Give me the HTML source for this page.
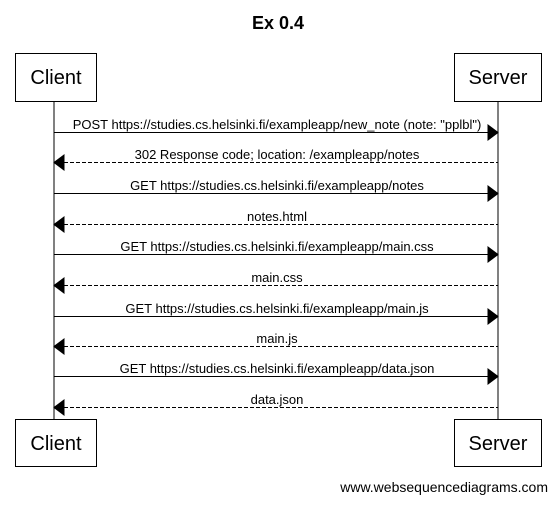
<!DOCTYPE html>
<html><head><style>body{margin:0;background:#fff}</style></head><body>
<svg width="557" height="502" xmlns="http://www.w3.org/2000/svg" font-family="Liberation Sans, sans-serif">
<text x="278" y="29" font-size="18" font-weight="bold" text-anchor="middle">Ex 0.4</text>
<line x1="54" y1="102" x2="54" y2="419" stroke="#000"/>
<line x1="498" y1="102" x2="498" y2="419" stroke="#000"/>
<g fill="#fff" stroke="#000">
<rect x="15.5" y="53.5" width="81" height="48"/>
<rect x="454.5" y="53.5" width="87" height="48"/>
<rect x="15.5" y="419.5" width="81" height="47"/>
<rect x="454.5" y="419.5" width="87" height="47"/>
</g>
<g font-size="20" text-anchor="middle">
<text x="56" y="84">Client</text><text x="498" y="84">Server</text>
<text x="56" y="450">Client</text><text x="498" y="450">Server</text>
</g>
<g stroke="#000">
<line x1="54" y1="132.5" x2="488" y2="132.5"/><polygon points="488,125 498,132.5 488,140" fill="#000"/>
<line x1="64" y1="162.5" x2="498" y2="162.5" stroke-dasharray="4,2"/><polygon points="64,155 54,162.5 64,170" fill="#000"/>
<line x1="54" y1="193.5" x2="488" y2="193.5"/><polygon points="488,186 498,193.5 488,201" fill="#000"/>
<line x1="64" y1="224.5" x2="498" y2="224.5" stroke-dasharray="4,2"/><polygon points="64,217 54,224.5 64,232" fill="#000"/>
<line x1="54" y1="254.5" x2="488" y2="254.5"/><polygon points="488,247 498,254.5 488,262" fill="#000"/>
<line x1="64" y1="285.5" x2="498" y2="285.5" stroke-dasharray="4,2"/><polygon points="64,278 54,285.5 64,293" fill="#000"/>
<line x1="54" y1="316.5" x2="488" y2="316.5"/><polygon points="488,309 498,316.5 488,324" fill="#000"/>
<line x1="64" y1="346.5" x2="498" y2="346.5" stroke-dasharray="4,2"/><polygon points="64,339 54,346.5 64,354" fill="#000"/>
<line x1="54" y1="376.5" x2="488" y2="376.5"/><polygon points="488,369 498,376.5 488,384" fill="#000"/>
<line x1="64" y1="407.5" x2="498" y2="407.5" stroke-dasharray="4,2"/><polygon points="64,400 54,407.5 64,415" fill="#000"/>
</g>
<g font-size="13" text-anchor="middle">
<text x="277" y="129">POST https://studies.cs.helsinki.fi/exampleapp/new_note (note: "pplbl")</text>
<text x="277" y="159">302 Response code; location: /exampleapp/notes</text>
<text x="277" y="190">GET https://studies.cs.helsinki.fi/exampleapp/notes</text>
<text x="277" y="221">notes.html</text>
<text x="277" y="251">GET https://studies.cs.helsinki.fi/exampleapp/main.css</text>
<text x="277" y="282">main.css</text>
<text x="277" y="313">GET https://studies.cs.helsinki.fi/exampleapp/main.js</text>
<text x="277" y="343">main.js</text>
<text x="277" y="373">GET https://studies.cs.helsinki.fi/exampleapp/data.json</text>
<text x="277" y="404">data.json</text>
</g>
<text x="548" y="492" font-size="14" text-anchor="end">www.websequencediagrams.com</text>
</svg>
</body></html>
